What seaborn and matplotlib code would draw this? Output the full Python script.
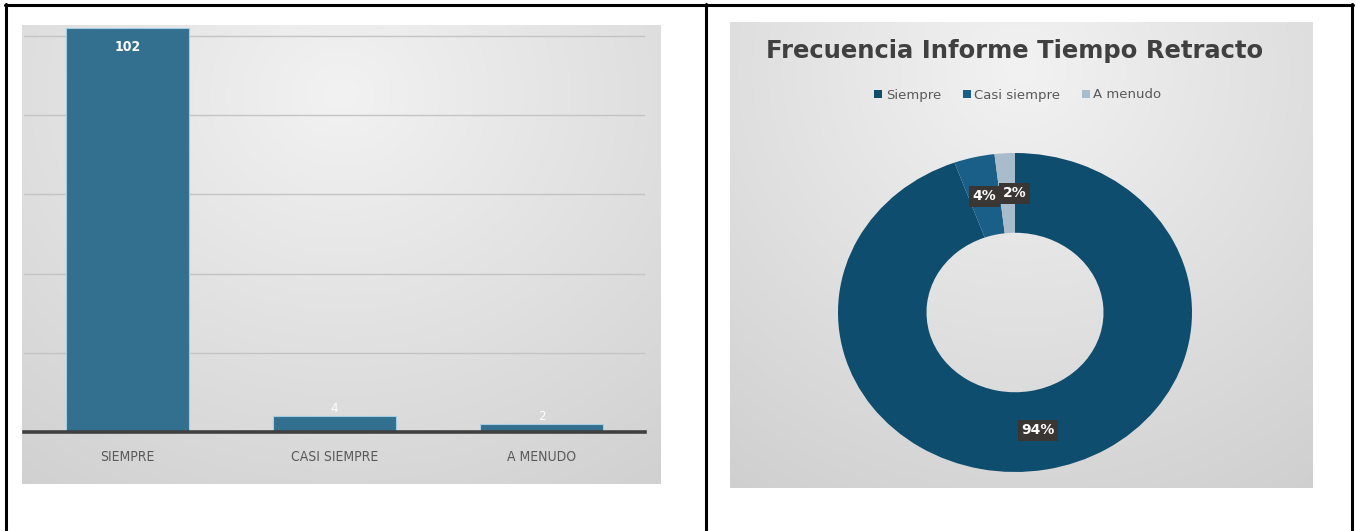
"""
Frecuencia informe tiempo retracto: bar chart + donut, side by side
inside a two-cell bordered table (as pasted into a Word document).
"""

import matplotlib.pyplot as plt
import numpy as np
import seaborn as sns
from matplotlib.colors import LinearSegmentedColormap


CATEGORIES = ['SIEMPRE', 'CASI SIEMPRE', 'A MENUDO']
COUNTS = [102, 4, 2]

PIE_LABELS = ['Siempre', 'Casi siempre', 'A menudo']
PIE_COLORS = ['#0f4d6f', '#1a5f87', '#a9bccb']
BAR_COLOR = '#33708f'

TITLE = 'Frecuencia Informe Tiempo Retracto'

W, H = 1356, 531
GRAY_CMAP = LinearSegmentedColormap.from_list('bg', ['#f2f2f2', '#cfcfcf'])


def px_axes(fig, x0, y0, x1, y1, **kw):
    # pixel box (top-left origin) -> figure axes
    return fig.add_axes([x0 / W, (H - y1) / H, (x1 - x0) / W, (y1 - y0) / H], **kw)


def gradient_panel(fig, box, cx=0.5, cy=0.15):
    ax = px_axes(fig, *box)
    yy, xx = np.mgrid[0:1:200j, 0:1:200j]
    r = np.sqrt(((xx - cx) / 0.9) ** 2 + ((yy - cy) / 1.1) ** 2)
    ax.imshow(np.clip(r, 0, 1), cmap=GRAY_CMAP, aspect='auto',
              extent=(0, 1, 1, 0), vmin=0, vmax=1)
    ax.set_axis_off()
    return ax


def main() -> None:
    sns.set_theme(style='white')
    plt.rcParams['font.family'] = ['DejaVu Sans']

    fig = plt.figure(figsize=(W / 100, H / 100), dpi=100)

    # table borders (no bottom edge: the table continues below the crop)
    border = fig.add_axes([0, 0, 1, 1], zorder=-5)
    border.set_xlim(0, W)
    border.set_ylim(H, 0)
    border.set_axis_off()
    for x in (6, 706, 1352):
        border.plot([x, x], [4, H + 2], color='black', lw=2.2)
    border.plot([5, 1353], [5, 5], color='black', lw=2.2)

    # --- left: bar chart ---
    gradient_panel(fig, (22, 25, 661, 484))
    ax = px_axes(fig, 24, 28, 645, 432)
    ax.patch.set_alpha(0)
    sns.barplot(x=CATEGORIES, y=COUNTS, ax=ax, color=BAR_COLOR, saturation=1,
                width=0.594, edgecolor='#a3cde2', linewidth=0.8, zorder=3)
    ax.set_ylim(0, 102)
    ax.set_xlim(-0.5, 2.5)
    ax.set_yticks([20, 40, 60, 80, 100])
    ax.yaxis.grid(True, color='#c4c4c4', linewidth=1.0)
    ax.set_axisbelow(True)
    ax.tick_params(axis='y', left=False, labelleft=False)
    ax.tick_params(axis='x', bottom=False, length=0, pad=13, labelsize=10,
                   labelcolor='#595959')
    for lab in ax.get_xticklabels():
        lab.set_fontstretch('condensed')
    for side in ('top', 'right', 'left'):
        ax.spines[side].set_visible(False)
    ax.spines['bottom'].set_color('#404040')
    ax.spines['bottom'].set_linewidth(2.6)
    ax.spines['bottom'].set_zorder(4)
    ax.set_xlabel('')
    ax.set_ylabel('')

    top = max(COUNTS)
    for i, v in enumerate(COUNTS):
        inside = v == top
        ax.annotate(str(v), (i, v), xytext=(0, -14 if inside else 1),
                    textcoords='offset points', ha='center',
                    va='center' if inside else 'bottom',
                    color='white', fontsize=10 if inside else 9.5,
                    fontweight='bold' if inside else 'normal',
                    fontstretch='condensed', zorder=5)

    # --- right: donut ---
    gradient_panel(fig, (730, 22, 1313, 488), cy=0.1)
    fig.text(1015 / W, 1 - 51 / H, TITLE, ha='center', va='center',
             fontsize=17.5, fontweight='bold', color='#404040')

    pax = px_axes(fig, 838, 153, 1192, 472)
    pax.patch.set_alpha(0)
    wedges, _, autotexts = pax.pie(
        COUNTS, colors=PIE_COLORS, startangle=90, counterclock=False,
        autopct=lambda p: f'{p:.0f}%', pctdistance=0.75,
        wedgeprops=dict(width=0.5, edgecolor='none'),
        textprops=dict(color='white', fontweight='bold', fontsize=10),
    )
    for t in autotexts:
        t.set_bbox(dict(boxstyle='square,pad=0.25', fc='#3a3634', ec='none'))
    # Excel nudges the smallest label right so it sits beside its neighbour
    autotexts[-1].set_x(autotexts[-1].get_position()[0] + 0.04)
    pax.set_aspect('auto')
    pax.set_xlim(-1, 1)
    pax.set_ylim(-1, 1)

    fig.legend(wedges, PIE_LABELS, loc='center', bbox_to_anchor=(1018 / W, 1 - 95 / H),
               ncol=3, frameon=False, fontsize=9.5, handlelength=0.6, handleheight=0.6,
               handletextpad=0.3, columnspacing=1.6, labelcolor='#595959')

    fig.savefig('out.png', dpi=100)


if __name__ == '__main__':
    main()
